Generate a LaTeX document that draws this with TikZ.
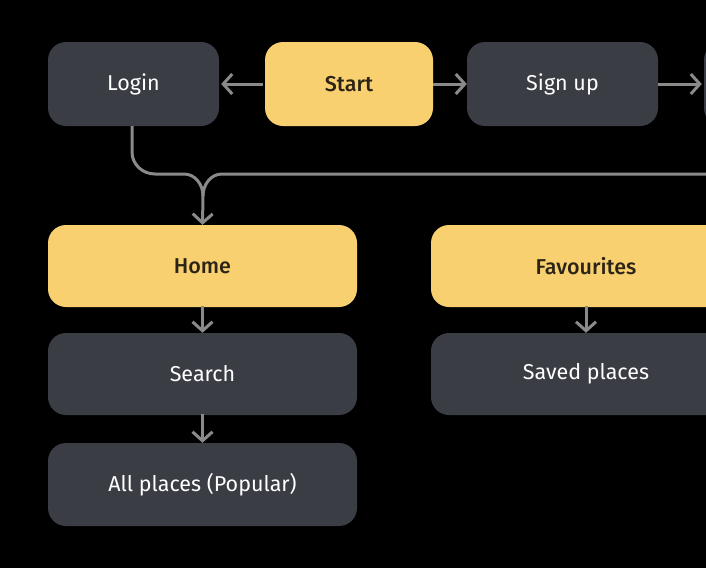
\documentclass[tikz,border=0pt]{standalone}
\usepackage{fontspec}
\setmainfont{Fira Sans}[BoldFont={Fira Sans Medium}]
\usetikzlibrary{arrows.meta}
\definecolor{bgc}{HTML}{000000}
\definecolor{boxdark}{HTML}{3B3D45}
\definecolor{boxyel}{HTML}{F9D070}
\definecolor{linec}{HTML}{8A8A8A}
\definecolor{txtdark}{HTML}{2B2416}
\tikzset{
  darkbox/.style={fill=boxdark, rounded corners=18pt, text=white, font=\fontsize{21.5}{25}\selectfont, inner sep=0pt},
  yelbox/.style={fill=boxyel, rounded corners=18pt, text=txtdark, font=\fontsize{21.5}{25}\selectfont\bfseries, inner sep=0pt},
  conn/.style={draw=linec, line width=3pt, -{Straight Barb[length=9pt,width=20pt,line width=3pt]}},
  plainconn/.style={draw=linec, line width=3pt}
}
\begin{document}
\begin{tikzpicture}[x=1pt,y=-1pt]
\fill[bgc] (0,0) rectangle (706,568);
\useasboundingbox (0,0) rectangle (706,568);
\clip (0,0) rectangle (706,568);
% top row
\node[darkbox, minimum width=171pt, minimum height=84pt] (login) at (133.5,84) {Login};
\node[yelbox, minimum width=168pt, minimum height=84pt] (start) at (349,84) {Start};
\node[darkbox, minimum width=191pt, minimum height=84pt] (signup) at (562.5,84) {Sign up};
\node[darkbox, minimum width=170pt, minimum height=84pt] (next) at (789,84) {};
% second column
\node[yelbox, minimum width=309pt, minimum height=82pt] (home) at (202.5,266) {Home};
\node[darkbox, minimum width=309pt, minimum height=82pt] (search) at (202.5,374) {Search};
\node[darkbox, minimum width=309pt, minimum height=83pt] (all) at (202.5,484.5) {All places (Popular)};
\node[yelbox, minimum width=310pt, minimum height=82pt] (fav) at (586,266) {Favourites};
\node[darkbox, minimum width=310pt, minimum height=82pt] (saved) at (586,374) {Saved places};
% arrows
\draw[conn] ([xshift=-2pt]start.west) -- ([xshift=2pt]login.east);
\draw[conn] (start.east) -- (signup.west);
\draw[conn] (signup.east) -- ([xshift=-2pt]next.west);
\coordinate (mergeR) at (706,174);
\draw[plainconn] (mergeR) -- (222,174) to[out=180,in=90] (203,196);
\draw[conn] (login.south -| 132,0) -- (132,152) to[out=270,in=180] (155,174) -- (184,174) to[out=0,in=90] (203,196) -- (home.north);
\draw[conn] ([yshift=1pt]home.south) -- (search.north);
\draw[conn] ([yshift=1pt]search.south) -- (all.north);
\draw[conn] ([yshift=1pt]fav.south) -- (saved.north);
\end{tikzpicture}
\end{document}
